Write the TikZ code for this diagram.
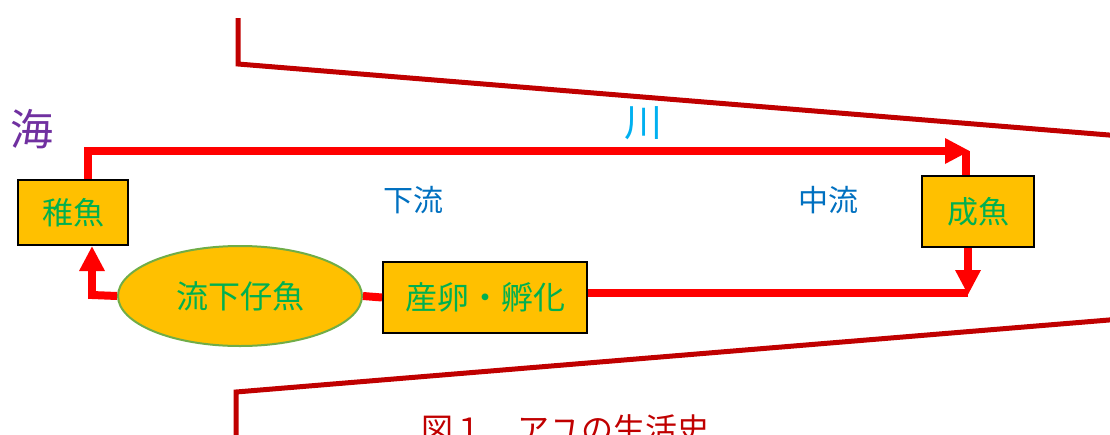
\documentclass[tikz,border=0pt]{standalone}
\usepackage{fontspec}
\setmainfont{Noto Sans CJK JP}
\usetikzlibrary{arrows.meta,shapes.geometric}
\definecolor{bank}{HTML}{C00000}
\definecolor{flow}{HTML}{FF0000}
\definecolor{gold}{HTML}{FFC000}
\definecolor{txtgreen}{HTML}{00B050}
\definecolor{elborder}{HTML}{70AD47}
\definecolor{seapurple}{HTML}{7030A0}
\definecolor{riverblue}{HTML}{00B0F0}
\definecolor{zoneblue}{HTML}{0070C0}
\begin{document}
\begin{tikzpicture}[x=1pt,y=-1pt,
  stagebox/.style={draw=black,line width=2pt,fill=gold,text=txtgreen,font=\fontsize{31}{34}\selectfont,inner sep=0pt},
  stageell/.style={ellipse,draw=elborder,line width=2pt,fill=gold,text=txtgreen,font=\fontsize{32}{36}\selectfont,inner sep=0pt},
  flowline/.style={draw=flow,line width=8pt},
  flowarrow/.style={flowline,-{Triangle[length=25pt,width=24pt]}},
  bankline/.style={draw=bank,line width=5pt},
  zonelabel/.style={text=zoneblue,font=\fontsize{30}{34}\selectfont}]
\useasboundingbox (0,0) rectangle (1110,434);
% river banks
\draw[bankline] (238,18) -- (238,64) -- (1115,135.5);
\draw[bankline] (236,440) -- (236,392) -- (1115,319.5);
% nodes
\node[stagebox,minimum width=110pt,minimum height=65pt] (chigyo) at (73,212.5) {稚魚};
\node[stagebox,minimum width=112pt,minimum height=71pt] (seigyo) at (978,211.5) {成魚};
\node[stagebox,font=\fontsize{32}{36}\selectfont,minimum width=204pt,minimum height=71pt] (sanran) at (485,297.5) {産卵・孵化};
\node[stageell,minimum width=244pt,minimum height=100pt] (ryuka) at (240,296) {流下仔魚};
% labels
\node[text=seapurple,font=\fontsize{43}{46}\selectfont] (umi) at (32,129) {海};
\node[text=riverblue,font=\fontsize{38}{42}\selectfont] (kawa) at (643,123) {川};
\node[zonelabel] (karyu) at (413,200) {下流};
\node[zonelabel] (churyu) at (828,200) {中流};
\node[text=bank,font=\fontsize{32}{36}\selectfont] (caption) at (565,429) {図１　アユの生活史};
% flow connectors
\coordinate (c1) at (88,151);
\coordinate (c2) at (970,151);
\coordinate (c2a) at (966,151);
\coordinate (c3) at (968,295);
\coordinate (c5) at (968,293);
\coordinate (c4) at (92,295);
\coordinate (c4a) at (92,299);
\draw[flowline] (chigyo.north -| c1) -- (c1) -- ([xshift=-20pt]c2);
\draw[flowarrow] ([xshift=-22pt]c2) -- (c2);
\draw[flowline] (c2a) -- (seigyo.north -| c2a);
\draw[flowarrow] (seigyo.south -| c3) -- (c3);
\draw[flowline] (c5) -- (sanran.east |- c5);
\draw[flowline] (sanran.west) -- (ryuka.east);
\draw[flowline] (ryuka.west) -- (c4);
\draw[flowarrow] (c4a) -- (chigyo.south -| c4);
\end{tikzpicture}
\end{document}
